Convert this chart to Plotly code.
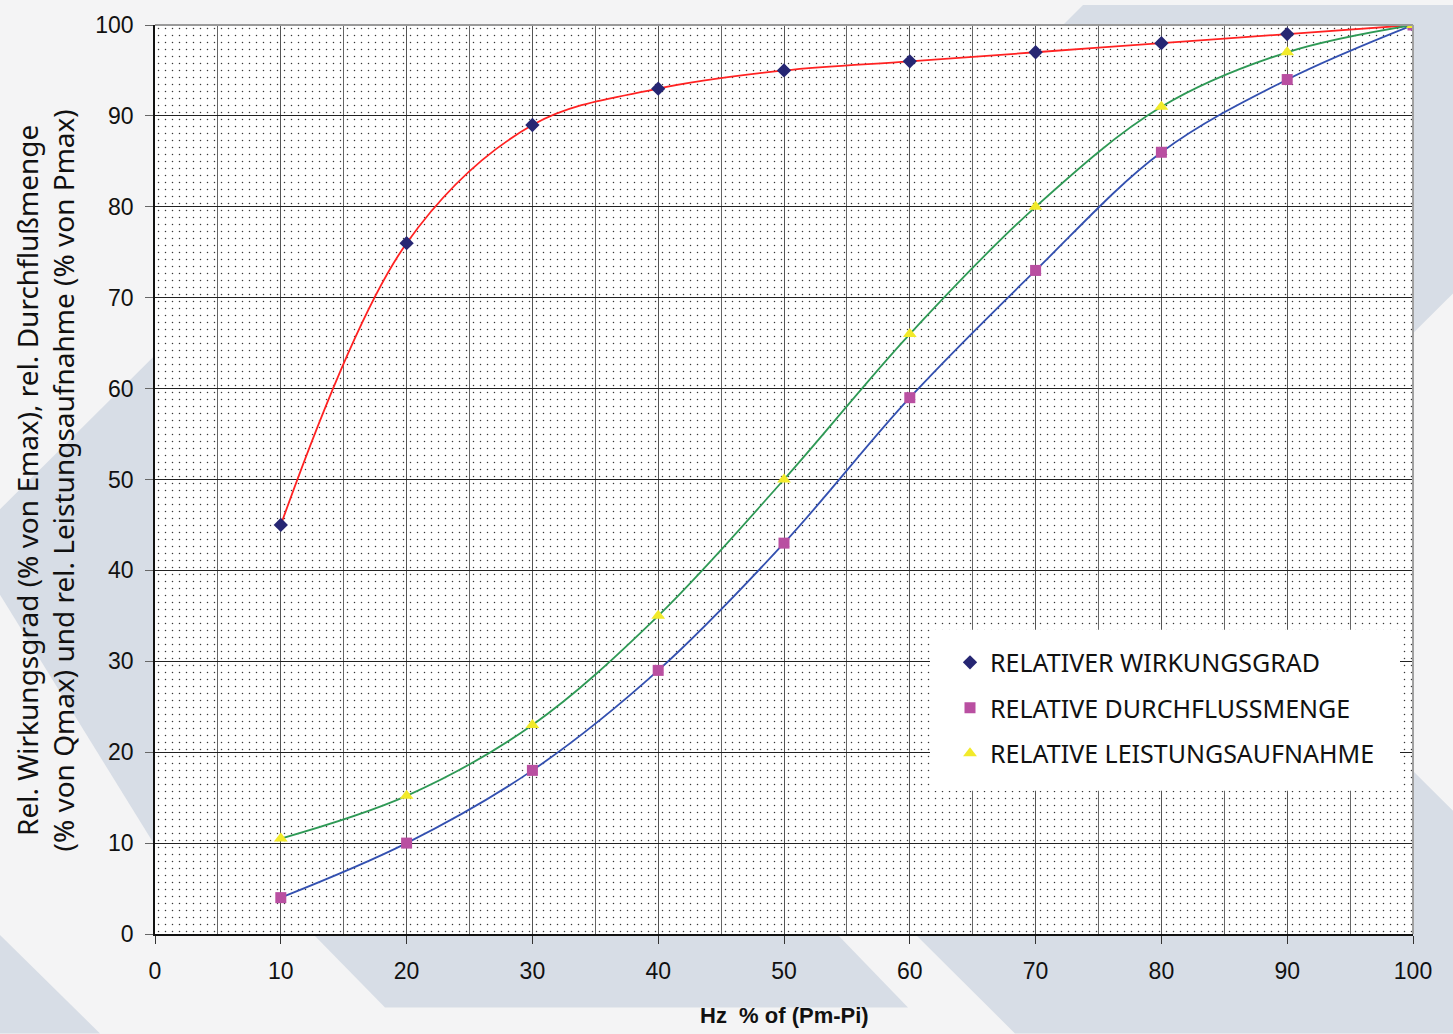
import plotly.graph_objects as go

# ---------------- data ----------------
hz_percent = [10, 20, 30, 40, 50, 60, 70, 80, 90, 100]
wirkungsgrad = [45, 76, 89, 93, 95, 96, 97, 98, 99, 100]
durchfluss = [4, 10, 18, 29, 43, 59, 73, 86, 94, 100]
leistung = [10.5, 15.2, 23, 35, 50, 66, 80, 91, 97, 100]

series_names = ["RELATIVER WIRKUNGSGRAD", "RELATIVE DURCHFLUSSMENGE", "RELATIVE LEISTUNGSAUFNAHME"]
x_ticks = [0, 10, 20, 30, 40, 50, 60, 70, 80, 90, 100]
y_ticks = [0, 10, 20, 30, 40, 50, 60, 70, 80, 90, 100]
X_MIN, X_MAX = 0, 100
Y_MIN, Y_MAX = 0, 100

x_title = "<b>Hz  % of (Pm-Pi)</b>"
y_title = "Rel. Wirkungsgrad (% von Emax), rel. Durchflußmenge<br>(% von Qmax) und rel. Leistungsaufnahme (% von Pmax)"

# ---------------- layout geometry (pixels) ----------------
W, H = 1453, 1034
PL, PR, PT, PB = 155, 1413, 20, 934

def fx(X):
    return (X - PL) / (PR - PL)

def fy(Y):
    return (PB - Y) / (PB - PT)

def poly(points):
    return "M " + " L ".join(f"{fx(a):.5f},{fy(b):.5f}" for a, b in points) + " Z"

BAND = "#d7dde6"
PAPER = "#f4f4f5"

band_polys = [
    [(1083, 0), (1453, 0), (1453, 290), (1413, 330), (1063, 330), (1063, 20)],
    [(0, 507), (155, 352), (155, 845), (0, 593)],
    [(313, 934), (385, 1008), (908, 1008), (837, 934)],
    [(915, 934), (1015, 1034), (1453, 1034), (1453, 810), (1413, 770), (1413, 934)],
    [(0, 935), (0, 1034), (100, 1034)],
]

shapes = []
for p in band_polys:
    shapes.append(dict(type="path", path=poly(p), xref="paper", yref="paper",
                       fillcolor=BAND, line=dict(width=0), layer="below"))

# white plot area (below gridlines)
shapes.append(dict(type="rect", xref="x", yref="y", x0=X_MIN, x1=X_MAX, y0=Y_MIN, y1=Y_MAX,
                   fillcolor="white", line=dict(width=0), layer="below"))
# gray top / right frame
shapes.append(dict(type="line", xref="paper", yref="paper", x0=0, x1=1, y0=1, y1=1,
                   line=dict(color="#9a9a9a", width=2), layer="above"))
shapes.append(dict(type="line", xref="paper", yref="paper", x0=1, x1=1, y0=0, y1=1,
                   line=dict(color="#a0a0a0", width=2), layer="above"))
# legend box
lx0, lx1, ly0, ly1 = fx(930), fx(1400), fy(790), fy(628)
shapes.append(dict(type="rect", xref="paper", yref="paper", x0=lx0, x1=lx1, y0=ly0, y1=ly1,
                   fillcolor="white", line=dict(width=0), layer="above"))

fig = go.Figure()

# dotted plot-area texture
fig.add_trace(go.Scatter(
    x=[X_MIN, X_MAX, X_MAX, X_MIN, X_MIN], y=[Y_MIN, Y_MIN, Y_MAX, Y_MAX, Y_MIN],
    mode="none", fill="toself", fillcolor="rgba(0,0,0,0)",
    fillpattern=dict(shape=".", size=7, solidity=0.035, fgcolor="#222222",
                     bgcolor="rgba(0,0,0,0)", fgopacity=0.9),
    showlegend=False, hoverinfo="skip"))

line_colors = ["#ff2222", "#3350b0", "#2e9955"]
marker_colors = ["#262673", "#b94fa1", "#f2ea2a"]
marker_symbols = ["diamond", "square", "triangle-up"]
marker_sizes = [11, 11, 12]
values = [wirkungsgrad, durchfluss, leistung]

for i in range(3):
    fig.add_trace(go.Scatter(
        x=hz_percent, y=values[i], mode="lines",
        line=dict(color=line_colors[i], width=1.8, shape="spline", smoothing=1.0),
        legendgroup=f"g{i}", showlegend=False, hoverinfo="skip"))

for i in range(3):
    fig.add_trace(go.Scatter(
        x=hz_percent, y=values[i], mode="markers", name=series_names[i],
        marker=dict(color=marker_colors[i], symbol=marker_symbols[i], size=marker_sizes[i],
                    line=dict(width=0)),
        legendgroup=f"g{i}"))

tick_font = dict(family="Liberation Sans, Arial", size=23, color="#111")

fig.update_layout(
    width=W, height=H,
    margin=dict(l=PL, r=W - PR, t=PT, b=H - PB),
    paper_bgcolor=PAPER, plot_bgcolor="white",
    shapes=shapes,
    showlegend=True,
    legend=dict(x=fx(950), y=fy(638), xanchor="left", yanchor="top",
                bgcolor="rgba(0,0,0,0)", borderwidth=0,
                font=dict(family="Noto Sans", size=25, color="#111"),
                tracegroupgap=10),
    xaxis=dict(range=[X_MIN, X_MAX], tickvals=x_ticks, ticks="outside", ticklen=8,
               tickcolor="#333", tickwidth=1.2, tickfont=tick_font, ticklabelstandoff=8,
               showgrid=True, gridcolor="#555", gridwidth=1.2,
               minor=dict(dtick=5, showgrid=True, gridcolor="#666", gridwidth=1.2, ticks=""),
               showline=True, linecolor="#111", linewidth=1.5, zeroline=False, fixedrange=True),
    yaxis=dict(range=[Y_MIN, Y_MAX], tickvals=y_ticks, ticks="outside", ticklen=8,
               tickcolor="#666", tickwidth=1.2, tickfont=tick_font, ticklabelstandoff=7,
               showgrid=True, gridcolor="#222", gridwidth=1,
               showline=True, linecolor="#111", linewidth=1.5, zeroline=False, fixedrange=True),
    annotations=[
        dict(text=y_title, xref="paper", yref="paper", x=fx(45), y=fy(478), xanchor="center",
             yanchor="middle", textangle=-90, showarrow=False,
             font=dict(family="Noto Sans", size=28, color="#111")),
        dict(text=x_title, xref="paper", yref="paper", x=0.5, y=fy(1016), xanchor="center",
             yanchor="middle", showarrow=False,
             font=dict(family="Liberation Sans, Arial", size=22, color="#111")),
    ],
)

fig.write_html("out.html", config={"displayModeBar": False},
               post_script="document.body.style.margin='0';document.body.style.overflow='hidden';")
